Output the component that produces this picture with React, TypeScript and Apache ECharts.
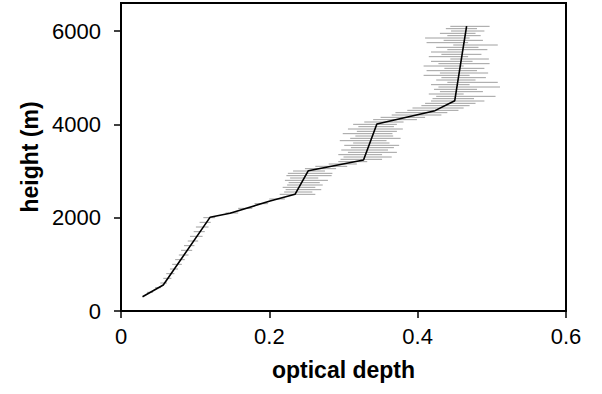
import React, { useEffect, useRef } from "react";
import * as echarts from "echarts";

// Profile line vertices: [optical depth, height (m)]
const profileDepth = [0.029, 0.057, 0.12, 0.147, 0.201, 0.2346, 0.2526, 0.327, 0.345, 0.4234, 0.45, 0.466];
const profileHeight = [306, 557, 2007, 2093, 2357, 2500, 3007, 3236, 4007, 4293, 4507, 6107];

// Error bars: heights and their low/high optical depth extents
const barHeights = [
  400, 500, 600, 700, 800, 900, 1000, 1100, 1200, 1300, 1400, 1500, 1600, 1700, 1800, 1900, 2000,
  2100, 2200, 2300, 2400,
  2500, 2550, 2600, 2650, 2700, 2750, 2800, 2850, 2900, 2950, 3000,
  3050, 3100, 3150, 3200,
  3250, 3300, 3350, 3400, 3450, 3500, 3550, 3600, 3650, 3700, 3750, 3800, 3850, 3900, 3950, 4000,
  4050, 4100, 4150, 4200, 4250, 4300, 4350, 4400, 4450, 4500,
  4550, 4600, 4650, 4700, 4750, 4800, 4850, 4900, 4950, 5000, 5050, 5100, 5150, 5200, 5250, 5300,
  5350, 5400, 5450, 5500, 5550, 5600, 5650, 5700, 5750, 5800, 5850, 5900, 5950, 6000, 6050, 6100,
];
const barLow = [
  0.035, 0.046, 0.053, 0.057, 0.061, 0.066, 0.069, 0.073, 0.078, 0.081, 0.085, 0.09, 0.093, 0.098, 0.101, 0.106, 0.111,
  0.141, 0.158, 0.18, 0.2,
  0.214, 0.22, 0.222, 0.218, 0.224, 0.226, 0.221, 0.228, 0.223, 0.225, 0.232,
  0.248, 0.262, 0.28, 0.293,
  0.296, 0.3, 0.293, 0.306, 0.297, 0.31, 0.301, 0.313, 0.295, 0.309, 0.316, 0.299, 0.318, 0.306, 0.32, 0.313,
  0.328, 0.34, 0.35, 0.365, 0.37, 0.386, 0.393, 0.405, 0.41, 0.418,
  0.42, 0.425, 0.415, 0.43, 0.422, 0.428, 0.418, 0.44, 0.425, 0.432, 0.408, 0.43, 0.412, 0.436, 0.408, 0.428,
  0.418, 0.444, 0.415, 0.432, 0.418, 0.44, 0.425, 0.448, 0.412, 0.435, 0.41, 0.44, 0.43, 0.445, 0.438, 0.444,
];
const barHigh = [
  0.043, 0.054, 0.062, 0.068, 0.072, 0.077, 0.082, 0.086, 0.091, 0.096, 0.099, 0.104, 0.11, 0.113, 0.118, 0.121, 0.127,
  0.158, 0.177, 0.198, 0.221,
  0.262, 0.258, 0.27, 0.262, 0.272, 0.268, 0.279, 0.266, 0.284, 0.285, 0.275,
  0.29, 0.305, 0.318, 0.332,
  0.352, 0.365, 0.352, 0.372, 0.36, 0.368, 0.375, 0.362, 0.358, 0.377, 0.367, 0.366, 0.372, 0.38, 0.368, 0.372,
  0.381, 0.399, 0.41, 0.432, 0.44, 0.455, 0.462, 0.47, 0.478, 0.49,
  0.476, 0.505, 0.462, 0.488, 0.48, 0.511, 0.47, 0.508, 0.478, 0.492, 0.47, 0.495, 0.48, 0.49, 0.462, 0.497,
  0.474, 0.496, 0.468, 0.486, 0.46, 0.494, 0.482, 0.508, 0.468, 0.488, 0.47, 0.485, 0.478, 0.49, 0.48, 0.497,
];

const xTicks = [0, 0.2, 0.4, 0.6];
const yTicks = [0, 2000, 4000, 6000];

export default function App() {
  const ref = useRef<HTMLDivElement>(null);

  useEffect(() => {
    if (!ref.current) return;
    const chart = echarts.init(ref.current, null, { renderer: "svg" });
    const font = "Liberation Sans, Arial, sans-serif";
    const lineData = profileDepth.map((d, i) => [d, profileHeight[i]]);
    const barData = barHeights.map((h, i) => [barLow[i], barHigh[i], h]);

    chart.setOption({
      animation: false,
      backgroundColor: "#ffffff",
      grid: {
        left: 121,
        right: 36,
        top: 3,
        bottom: 83,
        show: true,
        borderColor: "#000",
        borderWidth: 2,
        backgroundColor: "transparent",
      },
      xAxis: {
        type: "value",
        min: 0,
        max: 0.6,
        interval: 0.2,
        name: "optical depth",
        nameLocation: "middle",
        nameGap: 47,
        nameTextStyle: { fontFamily: font, fontSize: 23, fontWeight: "bold", color: "#000" },
        axisLine: { show: true, lineStyle: { color: "#000", width: 2 } },
        axisTick: { show: true, length: 7, lineStyle: { color: "#000", width: 1.5 }, customValues: xTicks },
        axisLabel: {
          fontFamily: font,
          fontSize: 22,
          color: "#000",
          margin: 14,
          customValues: xTicks,
          formatter: (v: number) => String(Math.round(v * 10) / 10),
        },
        splitLine: { show: false },
      },
      yAxis: {
        type: "value",
        min: 0,
        max: 6600,
        interval: 2000,
        name: "height (m)",
        nameLocation: "middle",
        nameGap: 80,
        nameRotate: 90,
        nameTextStyle: { fontFamily: font, fontSize: 23, fontWeight: "bold", color: "#000" },
        axisLine: { show: true, lineStyle: { color: "#000", width: 2 } },
        axisTick: { show: true, length: 7, lineStyle: { color: "#000", width: 1.5 }, customValues: yTicks },
        axisLabel: {
          fontFamily: font,
          fontSize: 22,
          color: "#000",
          margin: 20,
          customValues: yTicks,
          formatter: (v: number) => String(v),
        },
        splitLine: { show: false },
      },
      series: [
        {
          type: "custom",
          data: barData,
          encode: { x: [0, 1], y: 2 },
          silent: true,
          renderItem: (params: any, api: any) => {
            const a = api.coord([api.value(0), api.value(2)]);
            const b = api.coord([api.value(1), api.value(2)]);
            return {
              type: "line",
              shape: { x1: a[0], y1: a[1], x2: b[0], y2: b[1] },
              style: { stroke: "#a0a0a0", lineWidth: 1 },
            };
          },
          z: 1,
        },
        {
          type: "line",
          data: lineData,
          showSymbol: false,
          symbol: "none",
          lineStyle: { color: "#000", width: 1.6 },
          z: 3,
        },
      ],
    });
    return () => chart.dispose();
  }, []);

  return (
    <div
      ref={ref}
      style={{ position: "fixed", left: 0, top: 0, width: 602, height: 394, background: "#fff" }}
    />
  );
}
